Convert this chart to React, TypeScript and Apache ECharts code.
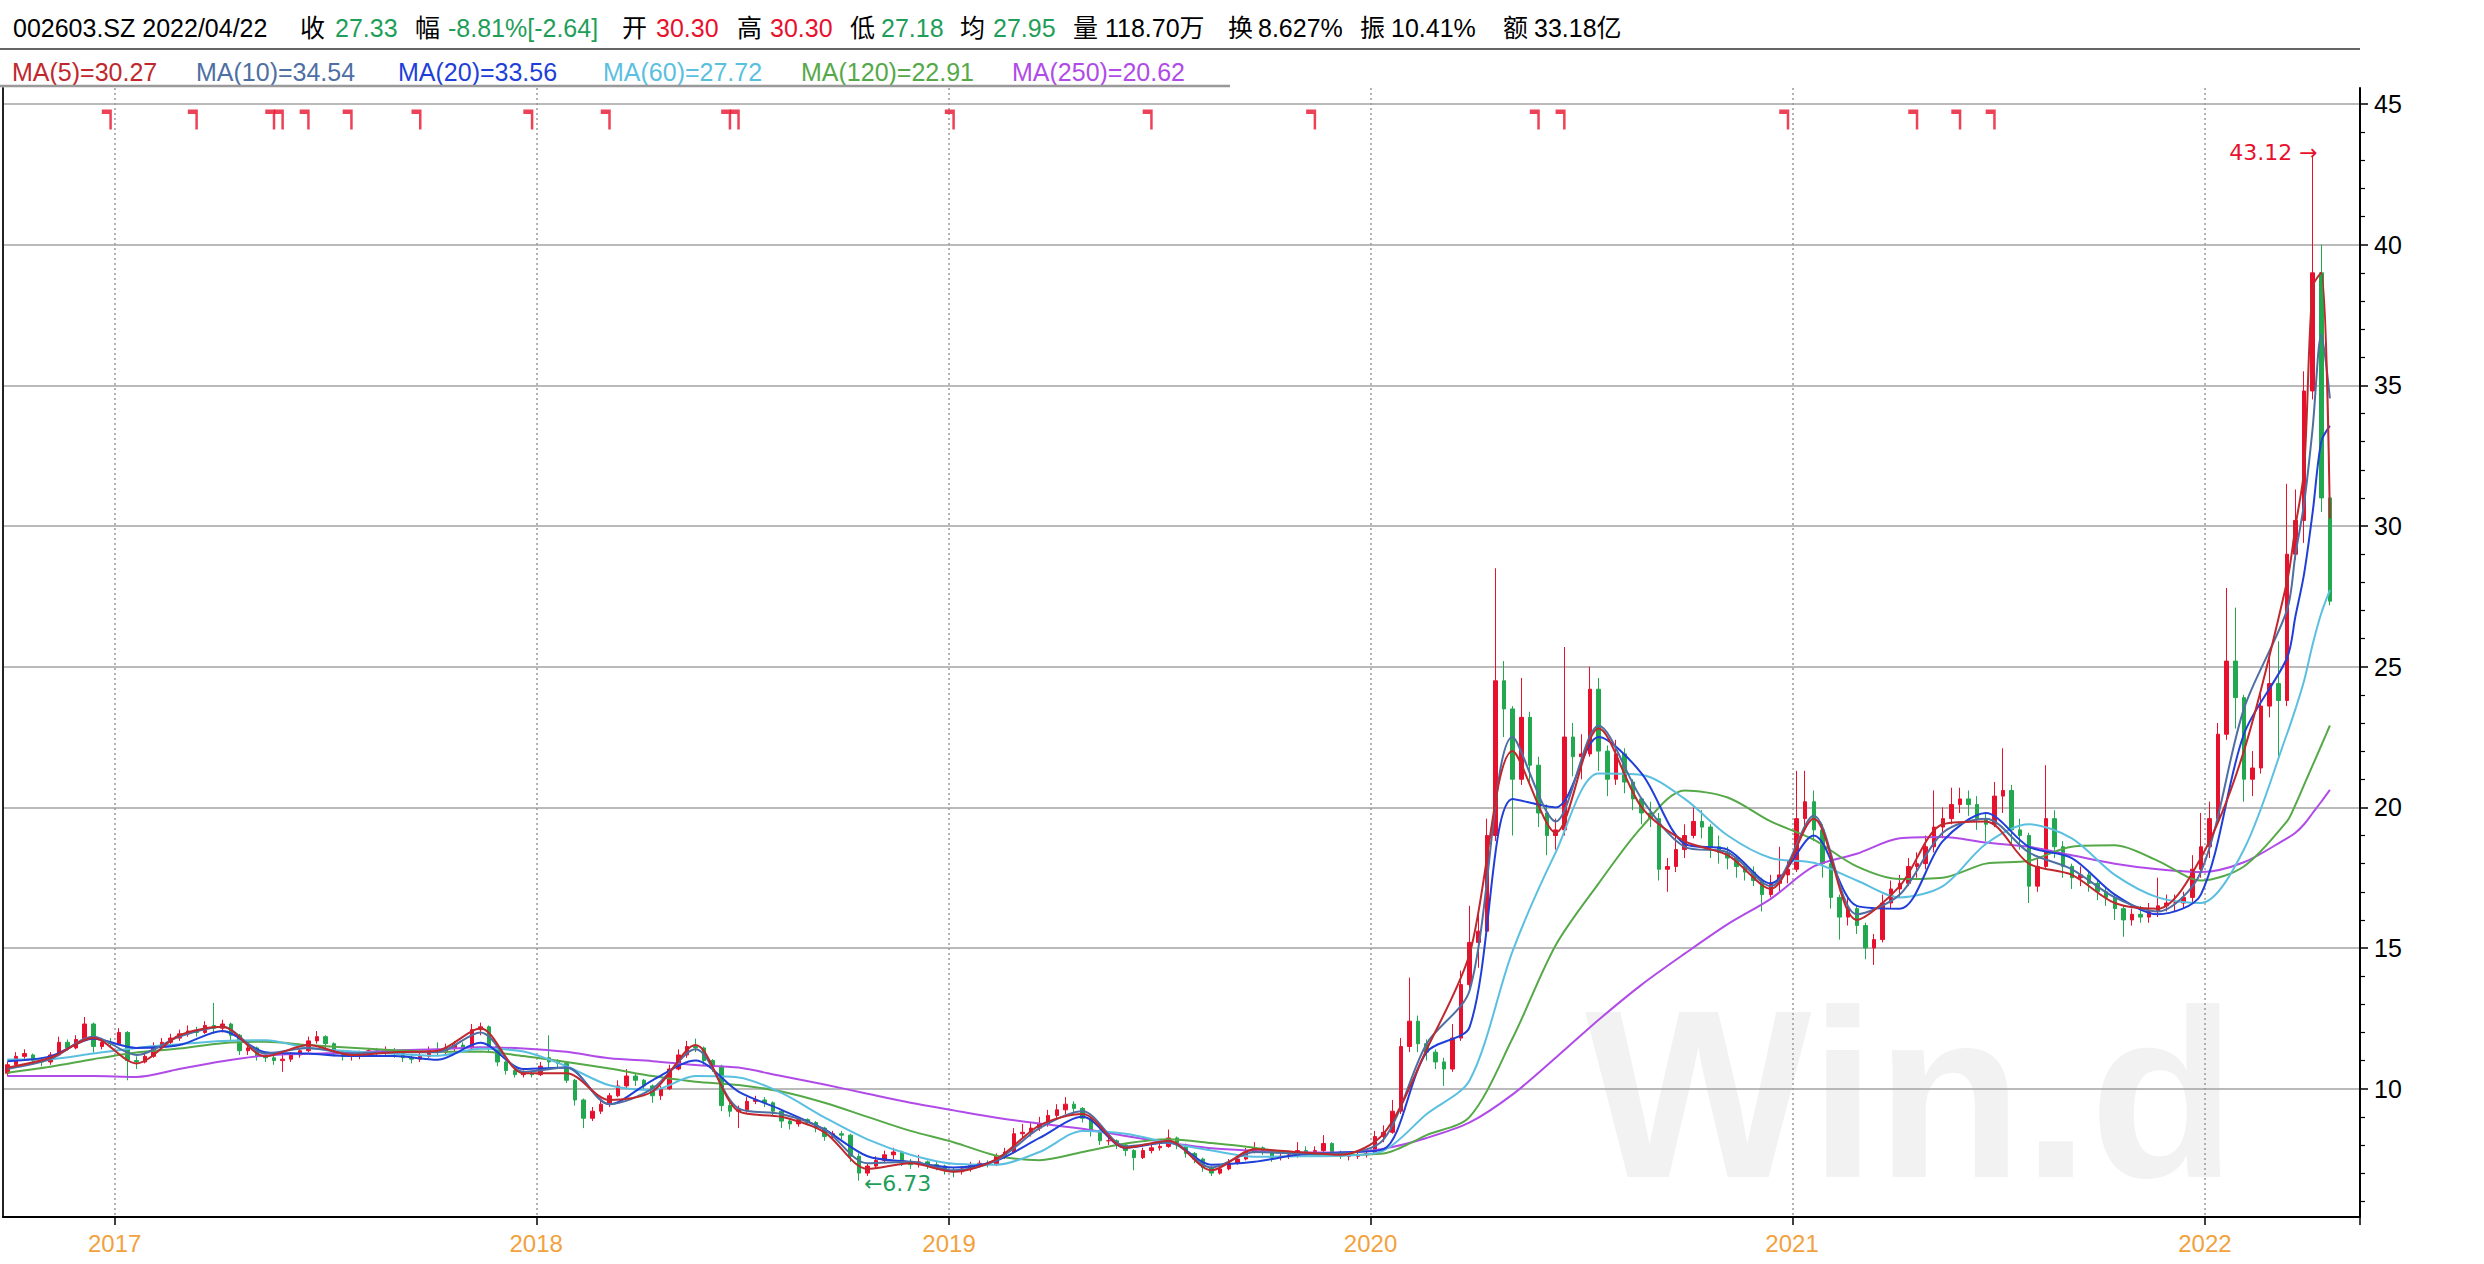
import React, { useEffect, useRef } from 'react';
import * as echarts from 'echarts';

const FONT = "'Liberation Sans', Arial, 'Noto Sans CJK SC', sans-serif";
const RED = '#e8112d';
const GREEN = '#1f9e5a';
const UP = '#e8112d';
const DOWN = '#22a94f';

// Each candle = one 5-trading-day block, [open, close, low, high]
const ohlc2016 = [
  [10.55, 10.85, 10.45, 10.95], [10.85, 11.15, 10.8, 11.3], [11.15, 11.25, 11.05, 11.4], [11.2, 11.0, 10.9, 11.25],
  [11.0, 10.95, 10.8, 11.1], [10.95, 11.2, 10.85, 11.3], [11.2, 11.65, 11.15, 11.85], [11.65, 11.45, 11.35, 11.75],
  [11.45, 11.75, 11.4, 11.9], [11.75, 12.3, 11.7, 12.55], [12.3, 11.5, 11.28, 12.35], [11.5, 11.65, 11.4, 11.8],
  [11.65, 11.6, 11.45, 11.8],
];
const ohlc2017 = [
  [11.6, 12.0, 11.55, 12.15], [12.0, 11.0, 10.3, 12.05], [11.0, 10.95, 10.7, 11.15], [10.95, 11.15, 10.9, 11.3],
  [11.15, 11.5, 11.1, 11.65], [11.5, 11.65, 11.4, 11.8], [11.65, 11.8, 11.55, 11.95], [11.8, 11.95, 11.7, 12.1],
  [11.95, 12.05, 11.85, 12.25], [12.05, 12.0, 11.85, 12.2], [12.0, 12.25, 11.95, 12.4], [12.25, 12.15, 11.95, 13.05],
  [12.15, 12.3, 12.0, 12.45], [12.3, 11.9, 11.7, 12.35], [11.9, 11.35, 11.2, 11.95], [11.35, 11.45, 11.2, 11.6],
  [11.45, 11.15, 11.0, 11.5], [11.15, 11.1, 10.95, 11.25], [11.1, 11.0, 10.85, 11.2], [11.0, 11.05, 10.6, 11.2],
  [11.05, 11.2, 10.95, 11.3], [11.2, 11.35, 11.1, 11.45], [11.35, 11.7, 11.3, 11.85], [11.7, 11.85, 11.6, 12.05],
  [11.85, 11.6, 11.45, 11.9], [11.6, 11.3, 11.15, 11.65], [11.3, 11.15, 11.0, 11.35], [11.15, 11.2, 11.0, 11.3],
  [11.2, 11.25, 11.05, 11.35], [11.25, 11.35, 11.15, 11.45], [11.35, 11.3, 11.15, 11.45], [11.3, 11.35, 11.2, 11.5],
  [11.35, 11.25, 11.1, 11.45], [11.25, 11.1, 10.95, 11.3], [11.1, 11.05, 10.9, 11.2], [11.05, 11.15, 10.95, 11.3],
  [11.15, 11.35, 11.1, 11.5], [11.35, 11.3, 11.15, 11.65], [11.3, 11.45, 11.2, 11.6], [11.45, 11.55, 11.3, 11.7],
  [11.55, 11.45, 11.3, 11.65], [11.45, 12.1, 11.4, 12.3], [12.1, 12.2, 11.9, 12.35], [12.2, 11.5, 11.3, 12.25],
  [11.5, 10.95, 10.8, 11.55], [10.95, 10.65, 10.5, 11.0], [10.65, 10.5, 10.4, 10.7], [10.5, 10.55, 10.4, 10.65],
  [10.55, 10.5, 10.4, 10.65],
];
const ohlc2018 = [
  [10.5, 10.8, 10.45, 10.95], [11.1, 10.95, 10.75, 11.9], [10.95, 10.9, 10.75, 11.05], [10.9, 10.3, 10.2, 10.95],
  [10.3, 9.6, 9.4, 10.35], [9.6, 8.95, 8.6, 9.65], [8.95, 9.2, 8.85, 9.35], [9.2, 9.45, 9.1, 9.6],
  [9.45, 9.75, 9.35, 9.85], [9.75, 10.1, 9.7, 10.3], [10.1, 10.45, 10.0, 10.7], [10.45, 10.3, 10.1, 10.55],
  [10.3, 10.1, 9.95, 10.35], [10.1, 9.75, 9.5, 10.15], [9.75, 10.0, 9.6, 10.1], [10.0, 10.7, 9.95, 10.85],
  [10.7, 11.2, 10.65, 11.4], [11.2, 11.5, 11.1, 11.7], [11.5, 11.45, 11.3, 11.78], [11.45, 11.0, 10.85, 11.5],
  [11.0, 10.8, 10.6, 11.05], [10.8, 9.4, 9.2, 10.85], [9.4, 9.2, 9.0, 9.5], [9.2, 9.25, 8.6, 9.4],
  [9.25, 9.55, 9.15, 9.7], [9.55, 9.6, 9.45, 9.75], [9.6, 9.5, 9.35, 9.7], [9.5, 9.2, 9.05, 9.55],
  [9.2, 8.85, 8.6, 9.25], [8.85, 8.75, 8.55, 8.95], [8.75, 8.9, 8.65, 9.0], [8.9, 8.8, 8.7, 8.95],
  [8.8, 8.6, 8.45, 8.85], [8.6, 8.3, 8.15, 8.65], [8.3, 8.4, 8.2, 8.5], [8.4, 8.35, 8.2, 8.5],
  [8.35, 7.6, 7.4, 8.4], [7.6, 7.0, 6.73, 7.7], [7.0, 7.25, 6.9, 7.35], [7.25, 7.45, 7.15, 7.6],
  [7.45, 7.65, 7.35, 7.8], [7.65, 7.75, 7.5, 7.9], [7.75, 7.4, 7.25, 7.8], [7.4, 7.3, 7.15, 7.5],
  [7.3, 7.4, 7.2, 7.65], [7.4, 7.3, 7.15, 7.45], [7.3, 7.25, 7.1, 7.4], [7.25, 7.1, 6.95, 7.3],
];
const ohlc2019 = [
  [7.1, 7.05, 6.85, 7.2], [7.05, 7.15, 6.95, 7.25], [7.15, 7.3, 7.05, 7.4], [7.3, 7.35, 7.2, 7.45],
  [7.35, 7.3, 7.2, 7.45], [7.3, 7.6, 7.25, 7.7], [7.6, 7.75, 7.5, 7.9], [7.75, 8.4, 7.7, 8.6],
  [8.4, 8.45, 8.25, 8.75], [8.45, 8.6, 8.3, 8.8], [8.6, 8.75, 8.5, 9.0], [8.75, 9.05, 8.65, 9.25],
  [9.05, 9.25, 8.95, 9.45], [9.25, 9.45, 9.1, 9.7], [9.45, 9.3, 9.1, 9.55], [9.3, 8.95, 8.8, 9.35],
  [8.95, 8.5, 8.3, 9.0], [8.5, 8.15, 8.0, 8.55], [8.15, 8.15, 8.0, 8.3], [8.15, 8.0, 7.85, 8.2],
  [8.0, 7.8, 7.6, 8.05], [7.8, 7.55, 7.1, 7.85], [7.55, 7.8, 7.5, 7.9], [7.8, 7.9, 7.7, 8.0],
  [7.9, 7.95, 7.8, 8.1], [7.95, 8.25, 7.9, 8.55], [8.25, 8.0, 7.85, 8.3], [8.0, 7.7, 7.55, 8.05],
  [7.7, 7.5, 7.35, 7.75], [7.5, 7.2, 7.05, 7.55], [7.2, 7.0, 6.9, 7.25], [7.0, 7.15, 6.95, 7.25],
  [7.15, 7.35, 7.1, 7.5], [7.35, 7.5, 7.3, 7.65], [7.5, 7.75, 7.45, 7.9], [7.75, 7.9, 7.7, 8.1],
  [7.9, 7.8, 7.65, 7.95], [7.8, 7.55, 7.4, 7.85], [7.55, 7.6, 7.45, 7.7], [7.6, 7.65, 7.5, 7.75],
  [7.65, 7.8, 7.55, 8.1], [7.8, 7.75, 7.6, 7.95], [7.75, 7.8, 7.65, 7.95], [7.8, 8.05, 7.7, 8.35],
  [8.05, 7.75, 7.65, 8.1], [7.75, 7.6, 7.5, 7.8], [7.6, 7.6, 7.45, 7.75], [7.6, 7.65, 7.5, 7.8],
  [7.65, 7.7, 7.55, 7.85],
];
const ohlc2020 = [
  [7.7, 8.3, 7.65, 8.5], [8.3, 8.45, 8.1, 8.7], [8.45, 9.2, 8.4, 9.6], [9.2, 11.5, 9.1, 11.8],
  [11.5, 12.4, 11.3, 13.95], [12.4, 11.6, 11.3, 12.6], [11.6, 11.3, 11.0, 11.75], [11.3, 10.95, 10.7, 11.4],
  [10.95, 10.7, 10.1, 11.1], [10.7, 11.8, 10.6, 12.3], [11.8, 13.7, 11.7, 14.2], [13.7, 15.2, 13.5, 16.5],
  [15.2, 15.6, 14.3, 16.3], [15.6, 19.0, 15.5, 19.6], [19.0, 24.5, 18.8, 28.5], [24.5, 23.5, 22.5, 25.2],
  [23.5, 21.0, 19.0, 23.6], [21.0, 23.2, 20.8, 24.6], [23.2, 21.5, 20.8, 23.4], [21.5, 19.8, 19.3, 21.8],
  [19.8, 19.0, 18.3, 20.1], [19.0, 19.2, 18.5, 19.6], [19.2, 22.5, 19.0, 25.7], [22.5, 21.8, 21.1, 23.0],
  [21.8, 21.9, 21.0, 22.6], [21.9, 24.2, 21.8, 25.0], [24.2, 22.0, 21.3, 24.6], [22.0, 21.0, 20.4, 22.2],
  [21.0, 21.9, 20.8, 22.4], [21.9, 20.9, 20.5, 22.1], [20.9, 20.3, 19.9, 21.0], [20.3, 19.8, 19.4, 20.3],
  [19.8, 19.6, 19.3, 20.2], [19.6, 17.8, 17.4, 19.8], [17.8, 17.9, 17.0, 18.2], [17.9, 18.5, 17.7, 19.0],
  [18.5, 19.0, 18.2, 19.4], [19.0, 19.5, 18.9, 20.0], [19.5, 19.3, 18.9, 19.9], [19.3, 18.6, 18.2, 19.4],
  [18.6, 18.4, 18.0, 19.0], [18.4, 18.2, 17.8, 18.6], [18.2, 17.9, 17.5, 18.3], [17.9, 17.7, 17.4, 18.0],
  [17.7, 17.4, 17.2, 17.9], [17.4, 16.9, 16.3, 17.5], [16.9, 17.3, 16.8, 17.6], [17.3, 17.6, 17.0, 18.6],
  [17.6, 17.8, 17.3, 18.1],
];
const ohlc2021 = [
  [17.8, 19.6, 17.7, 21.3], [19.6, 20.2, 19.2, 21.3], [20.2, 19.2, 18.8, 20.6], [19.2, 18.0, 17.5, 19.4],
  [18.0, 16.8, 16.4, 18.1], [16.8, 16.1, 15.3, 16.9], [16.1, 16.4, 15.8, 16.8], [16.4, 15.8, 15.5, 16.5],
  [15.8, 15.0, 14.6, 15.9], [15.0, 15.3, 14.4, 15.5], [15.3, 16.6, 15.2, 16.9], [16.6, 17.1, 16.4, 17.4],
  [17.1, 17.3, 16.8, 17.6], [17.3, 17.9, 17.2, 18.2], [17.9, 18.0, 17.5, 18.4], [18.0, 18.6, 17.8, 19.0],
  [18.6, 19.3, 18.4, 20.6], [19.3, 19.6, 18.9, 20.0], [19.6, 20.1, 19.4, 20.7], [20.1, 20.3, 19.8, 20.7],
  [20.3, 20.1, 19.7, 20.6], [20.1, 19.6, 19.2, 20.4], [19.6, 19.4, 18.8, 19.8], [19.4, 20.4, 19.3, 20.9],
  [20.4, 20.6, 19.8, 22.1], [20.6, 19.2, 18.7, 20.8], [19.2, 19.0, 18.5, 19.6], [19.0, 17.2, 16.6, 19.1],
  [17.2, 17.9, 17.0, 18.2], [17.9, 19.6, 17.8, 21.5], [19.6, 18.6, 18.2, 19.9], [18.6, 17.9, 17.5, 18.8],
  [17.9, 17.5, 17.1, 18.0], [17.5, 17.6, 17.2, 17.9], [17.6, 17.3, 17.0, 17.7], [17.3, 17.0, 16.7, 17.4],
  [17.0, 16.8, 16.5, 17.2], [16.8, 16.4, 16.0, 16.9], [16.4, 16.0, 15.4, 16.5], [16.0, 16.2, 15.8, 16.4],
  [16.2, 16.1, 15.9, 16.5], [16.1, 16.3, 15.9, 16.6], [16.3, 16.5, 16.1, 17.5], [16.5, 16.6, 16.3, 16.9],
  [16.6, 16.6, 16.3, 16.9], [16.6, 16.8, 16.4, 17.0], [16.8, 17.8, 16.6, 18.3], [17.8, 18.6, 17.5, 19.8],
];
const ohlc2022 = [
  [18.6, 19.6, 18.2, 20.2], [19.6, 22.6, 19.4, 23.0], [22.6, 25.2, 22.4, 27.8], [25.2, 23.9, 22.8, 27.1],
  [23.9, 21.0, 20.2, 24.0], [21.0, 21.4, 20.4, 22.0], [21.4, 23.6, 21.2, 24.2], [23.6, 24.4, 23.2, 25.3],
  [24.4, 23.8, 21.8, 25.9], [23.8, 29.0, 23.6, 31.5], [29.0, 30.2, 28.8, 31.3], [30.2, 34.8, 29.4, 35.5],
  [34.8, 39.0, 34.5, 43.12], [39.0, 31.0, 30.5, 40.0], [31.0, 27.33, 27.18, 31.5],
];

const yearLabels = ['2017', '2018', '2019', '2020', '2021', '2022'];
const yearStartBlocks = [13, 62, 110, 159, 208, 256];
const padBlocks = 3;

// Moving-average lines at these block positions
const maBlocks = [
  0, 5, 10, 15, 20, 25, 30, 35, 40, 45, 50, 55, 60, 65, 70, 75, 80, 85, 90, 95,
  100, 105, 110, 115, 120, 125, 130, 135, 140, 145, 150, 155, 160, 165, 170, 175, 180, 185, 190, 195,
  200, 205, 210, 215, 220, 225, 230, 235, 240, 245, 250, 255, 260, 265, 266, 267, 268, 269, 270,
];
const ma5 = [
  10.75, 11.1, 11.8, 10.9, 11.9, 12.2, 11.15, 11.55, 11.2, 11.3, 11.35, 12.15, 10.55, 10.55, 9.6, 9.9, 11.55, 9.2, 9.0, 8.45,
  7.15, 7.35, 7.05, 7.5, 8.7, 9.1, 7.9, 8.15, 7.1, 7.85, 7.75, 7.65, 8.4, 11.4, 14.8, 22.0, 19.1, 22.8, 20.0, 18.8,
  18.3, 17.1, 19.6, 16.0, 17.2, 19.4, 19.5, 18.0, 17.6, 16.6, 16.4, 18.2, 22.0, 28.0, 30.0, 32.0, 38.5, 39.0, 30.27,
];
const ma10 = [
  10.7, 11.05, 11.85, 11.2, 11.85, 12.2, 11.25, 11.45, 11.25, 11.3, 11.3, 12.0, 10.6, 10.75, 9.45, 10.0, 11.4, 9.3, 9.1, 8.55,
  7.35, 7.4, 7.1, 7.45, 8.6, 9.2, 7.95, 8.1, 7.2, 7.75, 7.7, 7.7, 8.2, 11.6, 13.5, 22.5, 19.5, 22.9, 20.3, 18.6,
  18.4, 17.2, 19.7, 16.2, 16.9, 19.1, 19.6, 18.4, 17.8, 16.8, 16.3, 17.7, 23.5, 27.0, 29.0, 30.8, 33.5, 36.8, 34.54,
];
const ma20 = [
  10.98, 11.15, 11.78, 11.45, 11.55, 12.05, 11.3, 11.25, 11.16, 11.16, 11.03, 11.63, 10.7, 10.75, 9.45, 10.3, 11.0, 9.9, 9.25, 8.55,
  7.6, 7.4, 7.2, 7.45, 8.25, 9.0, 7.9, 8.1, 7.3, 7.4, 7.65, 7.73, 7.85, 11.3, 12.2, 20.3, 20.0, 22.5, 21.2, 18.7,
  18.5, 17.3, 19.0, 16.5, 16.4, 18.8, 19.8, 18.6, 18.2, 16.9, 16.2, 16.9, 22.6, 25.3, 26.8, 28.3, 30.5, 33.0, 33.56,
];
const ma60 = [
  11.04, 11.05, 11.25, 11.45, 11.58, 11.7, 11.72, 11.45, 11.33, 11.24, 11.17, 11.42, 11.32, 10.8, 10.12, 9.95, 10.45, 10.4, 9.85, 8.98,
  8.2, 7.65, 7.33, 7.3, 7.75, 8.5, 8.4, 8.08, 7.8, 7.58, 7.6, 7.62, 7.8, 9.1, 10.3, 14.9, 18.4, 21.2, 21.15, 20.3,
  19.0, 18.2, 18.03, 17.4, 16.8, 17.2, 18.7, 19.4, 18.9, 17.6, 16.8, 16.6, 18.5, 22.6, 23.5, 24.5, 25.8, 26.9, 27.72,
];
const ma120 = [
  10.57, 10.78, 11.05, 11.29, 11.43, 11.62, 11.67, 11.55, 11.46, 11.37, 11.31, 11.32, 11.16, 10.95, 10.72, 10.45, 10.25, 10.13, 9.9, 9.5,
  9.0, 8.5, 8.1, 7.62, 7.46, 7.75, 8.05, 8.2, 8.07, 7.9, 7.68, 7.65, 7.7, 8.35, 9.0, 11.8, 15.1, 17.3, 19.3, 20.6,
  20.35, 19.5, 18.85, 17.9, 17.45, 17.5, 18.0, 18.1, 18.6, 18.65, 18.1, 17.4, 17.9, 19.5, 20.1, 20.8, 21.5, 22.2, 22.91,
];
const ma250 = [
  10.45, 10.45, 10.45, 10.42, 10.7, 10.98, 11.18, 11.24, 11.28, 11.36, 11.4, 11.47, 11.43, 11.31, 11.08, 10.98, 10.84, 10.75, 10.45, 10.15,
  9.82, 9.5, 9.23, 8.97, 8.76, 8.58, 8.32, 8.08, 7.88, 7.79, 7.73, 7.73, 7.87, 8.25, 8.8, 9.8, 11.1, 12.45, 13.7, 14.8,
  15.85, 16.75, 17.9, 18.35, 18.9, 18.95, 18.75, 18.6, 18.3, 18.0, 17.8, 17.7, 18.05, 18.9, 19.1, 19.4, 19.8, 20.2, 20.62,
];

const maNames = ['MA(5)', 'MA(10)', 'MA(20)', 'MA(60)', 'MA(120)', 'MA(250)'];
const maLast = ['30.27', '34.54', '33.56', '27.72', '22.91', '20.62'];
const maColors = ['#c0282d', '#4e6fa3', '#1f3fd8', '#5bbfe0', '#56a948', '#b04be8'];
const maValues = [ma5, ma10, ma20, ma60, ma120, ma250];

// event flags along the top
const markerBlocks = [12, 22, 31, 32, 35, 40, 48, 61, 70, 84, 85, 110, 133, 152, 178, 181, 207, 222, 227, 231];
const markerLevel = 44.45;

const extremeBlocks = [268, 99];
const extremeValues = [43.12, 6.73];
const extremeLabels = ['43.12 →', '←6.73'];

const majorTicks = [10, 15, 20, 25, 30, 35, 40, 45];
const minorTicks = [6, 7, 8, 9, 11, 12, 13, 14, 16, 17, 18, 19, 21, 22, 23, 24, 26, 27, 28, 29, 31, 32, 33, 34, 36, 37, 38, 39, 41, 42, 43, 44];
const yMin = 5.44;
const yMax = 45.57;

const headerTexts = ['002603.SZ 2022/04/22', '收', '27.33', '幅', '-8.81%[-2.64]', '开', '30.30', '高', '30.30', '低', '27.18', '均', '27.95', '量', '118.70万', '换', '8.627%', '振', '10.41%', '额', '33.18亿'];
const headerTone = ['k', 'k', 'g', 'k', 'g', 'k', 'r', 'k', 'r', 'k', 'g', 'k', 'g', 'k', 'k', 'k', 'k', 'k', 'k', 'k', 'k'];
const headerX = [13, 300, 335, 415, 448, 622, 656, 737, 770, 850, 881, 960, 993, 1073, 1105, 1228, 1258, 1360, 1391, 1503, 1534];
const legendX = [12, 196, 398, 603, 801, 1012];

const candles = [...ohlc2016, ...ohlc2017, ...ohlc2018, ...ohlc2019, ...ohlc2020, ...ohlc2021, ...ohlc2022];
const categories = Array.from({ length: candles.length + padBlocks }, (_, i) => {
  const k = yearStartBlocks.indexOf(i);
  return k >= 0 ? yearLabels[k] : 'b' + i;
});
const isYearStart = (i: number) => yearStartBlocks.indexOf(i) >= 0;

function buildOption() {
  const toneColor: Record<string, string> = { k: '#000', g: GREEN, r: RED };
  const graphics: any[] = [];
  headerTexts.forEach((t, i) => {
    graphics.push({
      type: 'text', x: headerX[i], y: 28, z: 10,
      style: { text: t, fill: toneColor[headerTone[i]], fontSize: 25, fontFamily: FONT, verticalAlign: 'middle' },
    });
  });
  maNames.forEach((n, i) => {
    graphics.push({
      type: 'text', x: legendX[i], y: 72, z: 10,
      style: { text: `${n}=${maLast[i]}`, fill: maColors[i], fontSize: 25, fontFamily: FONT, verticalAlign: 'middle' },
    });
  });
  graphics.push({ type: 'line', z: 10, shape: { x1: 0, y1: 49, x2: 2360, y2: 49 }, style: { stroke: '#333', lineWidth: 1.5 } });
  graphics.push({ type: 'line', z: 10, shape: { x1: 0, y1: 86, x2: 1230, y2: 86 }, style: { stroke: '#999', lineWidth: 2.5 } });
  graphics.push({
    type: 'text', x: 1585, y: 1094, z: -10, silent: true,
    style: { text: 'Win.d', fill: '#f2f2f2', fontSize: 240, fontWeight: 'bold', fontFamily: FONT, verticalAlign: 'middle' },
  });

  const maSeries = maValues.map((vals, k) => ({
    type: 'line',
    name: maNames[k],
    data: maBlocks.map((b, i) => [b, vals[i]]),
    symbol: 'none',
    showSymbol: false,
    smooth: 0.3,
    silent: true,
    z: 4 + (5 - k) * 0.01,
    lineStyle: { width: 2, color: maColors[k] },
    itemStyle: { color: maColors[k] },
  }));

  const annotFont = { fontSize: 22, fontFamily: "'DejaVu Sans', 'Liberation Sans', sans-serif" };

  return {
    animation: false,
    backgroundColor: '#ffffff',
    textStyle: { fontFamily: FONT },
    graphic: graphics,
    grid: { left: 3, right: 124, top: 88, bottom: 47, containLabel: false },
    xAxis: {
      type: 'category',
      data: categories,
      boundaryGap: true,
      axisLine: { show: true, onZero: false, lineStyle: { color: '#000', width: 2 } },
      axisTick: { show: true, interval: isYearStart, length: 8, lineStyle: { color: '#000', width: 1.5 } },
      axisLabel: {
        show: true, interval: isYearStart, color: '#f2a23c', fontSize: 24, margin: 14,
        fontFamily: FONT, padding: [0, 9, 0, 0],
      },
      splitLine: { show: true, interval: isYearStart, lineStyle: { color: '#999', width: 1.5, type: [2, 3] } },
    },
    yAxis: [
      {
        type: 'value', position: 'right', min: yMin, max: yMax,
        axisLine: { show: true, onZero: false, lineStyle: { color: '#000', width: 2 } },
        axisTick: { show: true, length: 8, customValues: majorTicks, lineStyle: { color: '#000', width: 1.5 } },
        axisLabel: { show: true, customValues: majorTicks, fontSize: 25, color: '#000', margin: 14, fontFamily: FONT },
        splitLine: { show: true, lineStyle: { color: '#a3a3a3', width: 1.5 } },
        minorTick: { show: false },
      },
      {
        type: 'value', position: 'right', min: yMin, max: yMax,
        axisLine: { show: false },
        axisTick: { show: true, length: 5, customValues: minorTicks, lineStyle: { color: '#000', width: 1.2 } },
        axisLabel: { show: false },
        splitLine: { show: false },
      },
      {
        type: 'value', position: 'left', min: yMin, max: yMax,
        axisLine: { show: true, onZero: false, lineStyle: { color: '#222', width: 2 } },
        axisTick: { show: false },
        axisLabel: { show: false },
        splitLine: { show: false },
      },
    ],
    series: [
      {
        type: 'candlestick',
        name: 'K',
        data: candles,
        barWidth: 4,
        z: 3,
        itemStyle: { color: UP, color0: DOWN, borderColor: UP, borderColor0: DOWN, borderWidth: 1 },
        markPoint: {
          symbol: 'circle',
          symbolSize: 2,
          silent: true,
          itemStyle: { color: 'rgba(0,0,0,0)' },
          label: { show: true, ...annotFont, distance: 2 },
          data: [
            {
              coord: [extremeBlocks[0], extremeValues[0]],
              label: { show: true, ...annotFont, position: 'left', formatter: extremeLabels[0], color: RED, offset: [8, -4] },
            },
            {
              coord: [extremeBlocks[1], extremeValues[1]],
              label: { show: true, ...annotFont, position: 'right', formatter: extremeLabels[1], color: GREEN, offset: [2, 3] },
            },
          ],
        },
      },
      ...maSeries,
      {
        type: 'scatter',
        name: 'flags',
        data: markerBlocks.map((b) => [b, markerLevel]),
        symbol: 'path://M0,0H10V20H7.5V4.5H0Z',
        symbolSize: [10, 20],
        symbolOffset: [-3.7, 0],
        silent: true,
        z: 5,
        itemStyle: { color: RED },
      },
    ],
  };
}

export default function App() {
  const ref = useRef<HTMLDivElement>(null);
  useEffect(() => {
    if (!ref.current) return;
    const chart = echarts.init(ref.current, undefined, { renderer: 'svg' });
    chart.setOption(buildOption() as any);
    return () => chart.dispose();
  }, []);
  return (
    <div
      ref={ref}
      style={{ position: 'absolute', left: 0, top: 0, width: '2484px', height: '1264px', background: '#fff' }}
    />
  );
}
